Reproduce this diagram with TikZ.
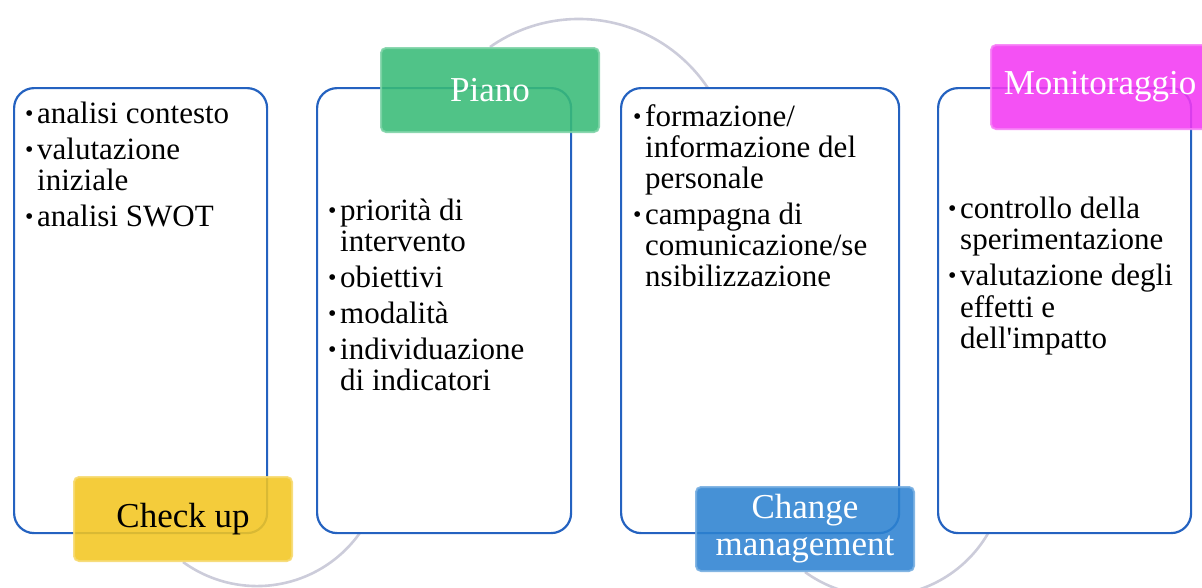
\documentclass[tikz,border=0pt]{standalone}
\usepackage{fontspec}
\setmainfont{Liberation Serif}
\usetikzlibrary{backgrounds}

\newcommand{\bul}{\makebox[12pt][l]{\raisebox{2pt}{\fontsize{24}{24}\selectfont\textbullet}}}

\begin{document}
\begin{tikzpicture}[x=1pt, y=-1pt,
  panel/.style={draw=boxline, line width=2.2pt, fill=white, rounded corners=20pt,
    minimum height=445pt, anchor=north west, inner sep=0pt},
  tag/.style={rounded corners=5pt, minimum width=218pt, minimum height=84pt,
    fill=#1, draw=#1!65!white, line width=2pt, fill opacity=0.88, draw opacity=0.88,
    text opacity=1, inner sep=0pt, align=center, font=\fontsize{35}{37}\selectfont},
  items/.style={anchor=north west, inner sep=0pt, font=\fontsize{31}{31}\selectfont},
  loop/.style={draw=arcgrey, line width=2.6pt}]

  \definecolor{boxline}{RGB}{36,98,192}
  \definecolor{arcgrey}{RGB}{204,204,218}
  \definecolor{checkcol}{RGB}{243,198,33}
  \definecolor{pianocol}{RGB}{56,187,119}
  \definecolor{changecol}{RGB}{45,130,209}
  \definecolor{monitcol}{RGB}{243,57,243}

  \useasboundingbox (0,0) rectangle (1202,587);

  % The four panels

  \foreach \name/\x/\w in {b1/13/253, b2/316/254, b3/620/278, b4/937/253}{
    \node[panel, minimum width=\w pt] (\name) at (\x,87) {};
  }

  % Their bullet lists

  \node[items] (t1) at (25,102) {\begin{tabular}{@{}l@{}l@{}}
    \bul & analisi contesto\\[5pt]
    \bul & valutazione\\
         & iniziale\\[5pt]
    \bul & analisi SWOT
  \end{tabular}};

  \node[items] (t2) at (328,199) {\begin{tabular}{@{}l@{}l@{}}
    \bul & priorità di\\
         & intervento\\[5pt]
    \bul & obiettivi\\[5pt]
    \bul & modalità\\[5pt]
    \bul & individuazione\\
         & di indicatori
  \end{tabular}};

  \node[items] (t3) at (633,104) {\begin{tabular}{@{}l@{}l@{}}
    \bul & formazione/\\
         & informazione del\\
         & personale\\[5pt]
    \bul & campagna di\\
         & comunicazione/se\\
         & nsibilizzazione
  \end{tabular}};

  \node[items] (t4) at (948,197) {\begin{tabular}{@{}l@{}l@{}}
    \bul & controllo della\\
         & sperimentazione\\[5pt]
    \bul & valutazione degli\\
         & effetti e\\
         & dell\textquotesingle impatto
  \end{tabular}};

  % Then the coloured tags

  \node[tag=checkcol] (check) at (183,519) {Check up};
  \node[tag=pianocol, text=white] (piano) at (490,90) {Piano};
  \node[tag=changecol, text=white] (change) at (805,529) {Change\\management};
  \node[tag=monitcol, text=white] (monit) at (1100,87) {Monitoraggio};

  % Grey arcs behind everything

  \begin{scope}[on background layer]
    \draw[loop] (check.south) arc[start angle=126, end angle=20, radius=126];
    \draw[loop] (piano.north) arc[start angle=235, end angle=335, radius=155];
    \draw[loop] (change.south) arc[start angle=126, end angle=20, radius=126];
  \end{scope}
\end{tikzpicture}
\end{document}
